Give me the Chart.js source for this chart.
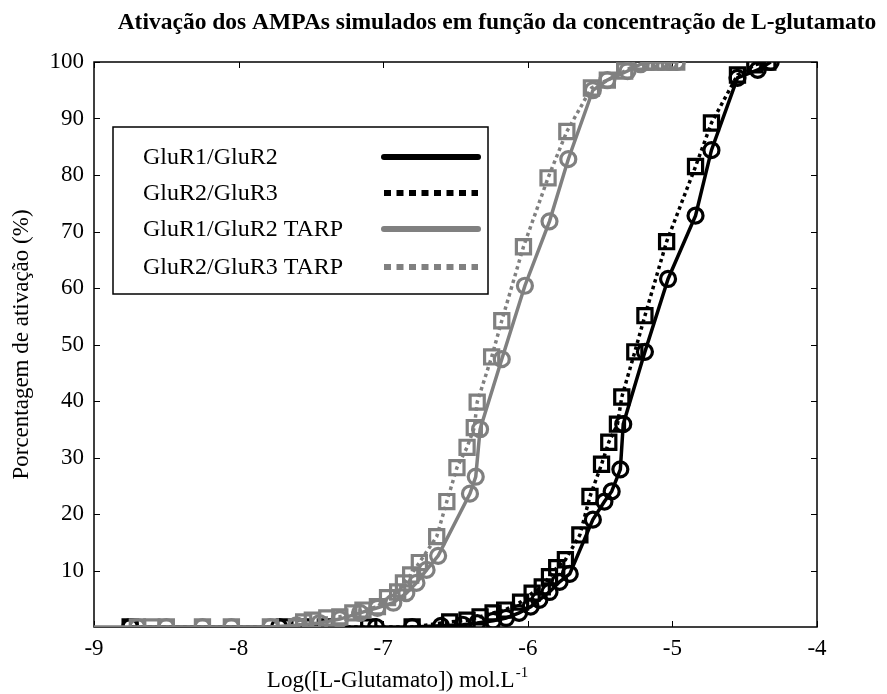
<!DOCTYPE html>
<html>
<head>
<meta charset="utf-8">
<title>Ativação dos AMPAs simulados</title>
<script src="https://cdn.jsdelivr.net/npm/chart.js@4.4.1/dist/chart.umd.min.js"></script>
<style>
    html, body { margin: 0; padding: 0; background: #ffffff; }
    #myChart { display: block; }
</style>
</head>
<body>
<canvas id="myChart" width="887" height="694" style="width:887px;height:694px"></canvas>
<script>
// Nama seri & tick
const seriesLabels = ['GluR1/GluR2', 'GluR2/GluR3', 'GluR1/GluR2 TARP', 'GluR2/GluR3 TARP'];
const xTickValues = [-9, -8, -7, -6, -5, -4];
const yTickValues = [10, 20, 30, 40, 50, 60, 70, 80, 90, 100];
const chartTitle = 'Ativação dos AMPAs simulados em função da concentração de L-glutamato';
const yTitle = 'Porcentagem de ativação (%)';
const xTitle = 'Log([L-Glutamato]) mol.L';
const xTitleSup = '-1';

// GluR1/GluR2 (hitam, garis penuh, lingkaran)
const glur12X = [-8.75, -7.72, -7.05, -6.80, -6.60, -6.45, -6.35, -6.24, -6.15, -6.06, -5.98, -5.92, -5.85, -5.78, -5.71, -5.55, -5.47, -5.42, -5.36, -5.34, -5.19, -5.03, -4.84, -4.73, -4.55, -4.41, -4.32];
const glur12Y = [0, 0, 0, 0, 0.2, 0.4, 0.7, 1.1, 1.6, 2.5, 3.6, 4.8, 6.2, 8.0, 9.4, 19.0, 22.2, 24.0, 27.9, 35.9, 48.7, 61.6, 72.8, 84.4, 97.2, 98.6, 100];

// GluR2/GluR3 (hitam, titik-titik, kotak)
const glur23X = [-8.75, -7.68, -7.55, -7.40, -7.10, -6.80, -6.54, -6.42, -6.33, -6.24, -6.16, -6.05, -5.97, -5.90, -5.85, -5.80, -5.74, -5.64, -5.57, -5.49, -5.44, -5.38, -5.35, -5.26, -5.19, -5.04, -4.84, -4.73, -4.55, -4.43, -4.34];
const glur23Y = [0, 0, 0, 0, 0, 0, 0.9, 1.2, 1.8, 2.5, 3.0, 4.4, 6.0, 7.1, 8.9, 10.5, 11.9, 16.3, 23.1, 28.8, 32.7, 35.9, 40.7, 48.7, 55.1, 68.2, 81.5, 89.2, 97.7, 99.5, 100];

// GluR1/GluR2 TARP (abu-abu, garis penuh, lingkaran)
const glur12TarpX = [-9.5, -8.70, -8.50, -8.25, -8.05, -7.78, -7.60, -7.44, -7.30, -7.16, -7.04, -6.93, -6.84, -6.77, -6.70, -6.62, -6.40, -6.36, -6.33, -6.18, -6.02, -5.85, -5.72, -5.55, -5.45, -5.31, -5.22, -5.15, -5.08, -5.02, -4.97];
const glur12TarpY = [0, 0, 0, 0, 0, 0, 0.3, 0.7, 1.4, 2.5, 3.4, 4.3, 6.0, 7.8, 10.1, 12.6, 23.6, 26.6, 35.0, 47.4, 60.4, 71.8, 82.8, 95.0, 96.8, 98.4, 99.6, 100, 100, 100, 100];

// GluR2/GluR3 TARP (abu-abu, titik-titik, kotak)
const glur23TarpX = [-8.70, -8.60, -8.50, -8.25, -8.05, -7.78, -7.60, -7.55, -7.49, -7.39, -7.30, -7.21, -7.14, -7.04, -6.97, -6.90, -6.86, -6.81, -6.75, -6.63, -6.56, -6.49, -6.42, -6.37, -6.35, -6.25, -6.18, -6.03, -5.86, -5.73, -5.56, -5.45, -5.33, -5.22, -5.15, -5.09, -5.02, -4.97];
const glur23TarpY = [0, 0, 0, 0, 0, 0, 0, 0.9, 1.2, 1.6, 1.8, 2.5, 3.0, 3.6, 5.2, 6.2, 7.8, 9.2, 11.4, 16.0, 22.2, 28.2, 31.8, 35.3, 39.8, 47.8, 54.2, 67.3, 79.5, 87.7, 95.4, 96.8, 98.4, 100, 100, 100, 100, 100];

const SERIF = "'Liberation Serif', 'Times New Roman', serif";
const BLACK = '#000000';
const GRAY = '#808080';

function toPoints(xs, ys) {
    return xs.map((x, i) => ({ x: x, y: ys[i] }));
}

function makeDataset(label, xs, ys, color, dotted, order) {
    return {
        label: label,
        data: toPoints(xs, ys),
        showLine: true,
        borderColor: color,
        borderWidth: 3.5,
        borderDash: dotted ? [3.5, 3.5] : [],
        borderCapStyle: 'butt',
        pointStyle: dotted ? 'rect' : 'circle',
        pointRadius: dotted ? 10 : 7.5,
        pointBorderWidth: 3.2,
        pointBorderColor: color,
        pointBackgroundColor: 'rgba(0,0,0,0)',
        pointHoverRadius: dotted ? 10 : 7.5,
        tension: 0,
        order: order,
        dotted: dotted
    };
}

// Bingkai + tick ke dalam
const framePlugin = {
    id: 'frame',
    beforeDatasetsDraw(chart) {
        const { ctx, chartArea: a, scales } = chart;
        ctx.save();
        ctx.strokeStyle = BLACK;
        ctx.lineWidth = 1.5;
        ctx.strokeRect(a.left, a.top, a.right - a.left, a.bottom - a.top);
        ctx.lineWidth = 1;
        ctx.beginPath();
        xTickValues.forEach(v => {
            const px = Math.round(scales.x.getPixelForValue(v)) + 0.5;
            ctx.moveTo(px, a.bottom); ctx.lineTo(px, a.bottom - 6);
            ctx.moveTo(px, a.top); ctx.lineTo(px, a.top + 6);
        });
        yTickValues.forEach(v => {
            const py = Math.round(scales.y.getPixelForValue(v)) + 0.5;
            ctx.moveTo(a.left, py); ctx.lineTo(a.left + 6, py);
            ctx.moveTo(a.right, py); ctx.lineTo(a.right - 6, py);
        });
        ctx.stroke();
        ctx.restore();
    }
};

// Judul, judul sumbu X dengan superscript, dan legenda kustom
const textPlugin = {
    id: 'texts',
    afterDraw(chart) {
        const { ctx, chartArea: a } = chart;
        ctx.save();
        ctx.fillStyle = BLACK;

        ctx.font = 'bold 23.5px ' + SERIF;
        ctx.textAlign = 'center';
        ctx.textBaseline = 'middle';
        ctx.fillText(chartTitle, 497, 23);

        ctx.font = '23px ' + SERIF;
        ctx.textBaseline = 'alphabetic';
        ctx.textAlign = 'left';
        const mainW = ctx.measureText(xTitle).width;
        ctx.font = '15px ' + SERIF;
        const supW = ctx.measureText(xTitleSup).width;
        const startX = 397 - (mainW + supW) / 2;
        ctx.font = '23px ' + SERIF;
        ctx.fillText(xTitle, startX, 687);
        ctx.font = '15px ' + SERIF;
        ctx.fillText(xTitleSup, startX + mainW + 1, 677);

        // legenda
        const boxL = a.left + 19, boxT = a.top + 65, boxW = 375, boxH = 167;
        ctx.fillStyle = '#ffffff';
        ctx.fillRect(boxL, boxT, boxW, boxH);
        ctx.strokeStyle = BLACK;
        ctx.lineWidth = 1.5;
        ctx.strokeRect(boxL, boxT, boxW, boxH);
        const rowY = [30, 66, 102, 140];
        ctx.font = '24px ' + SERIF;
        ctx.textBaseline = 'middle';
        chart.data.datasets.forEach((ds, i) => {
            const y = boxT + rowY[i];
            ctx.fillStyle = BLACK;
            ctx.fillText(ds.label, boxL + 30, y + 1);
            ctx.strokeStyle = ds.borderColor;
            ctx.lineWidth = 6;
            ctx.lineCap = ds.dotted ? 'butt' : 'round';
            ctx.setLineDash(ds.dotted ? [7, 5.5] : []);
            ctx.beginPath();
            ctx.moveTo(boxL + 271, y);
            ctx.lineTo(boxL + 365, y);
            ctx.stroke();
        });
        ctx.restore();
    }
};

const ctx = document.getElementById('myChart').getContext('2d');
const chart = new Chart(ctx, {
    type: 'scatter',
    data: {
        datasets: [
            makeDataset(seriesLabels[0], glur12X, glur12Y, BLACK, false, 4),
            makeDataset(seriesLabels[1], glur23X, glur23Y, BLACK, true, 3),
            makeDataset(seriesLabels[2], glur12TarpX, glur12TarpY, GRAY, false, 2),
            makeDataset(seriesLabels[3], glur23TarpX, glur23TarpY, GRAY, true, 1)
        ]
    },
    options: {
        responsive: false,
        animation: false,
        devicePixelRatio: 1,
        layout: { padding: { top: 62, right: 70, bottom: 0, left: 0 } },
        plugins: {
            legend: { display: false },
            title: { display: false },
            tooltip: { enabled: false }
        },
        scales: {
            x: {
                type: 'linear',
                min: -9,
                max: -4,
                afterBuildTicks: axis => { axis.ticks = xTickValues.map(v => ({ value: v })); },
                afterFit: axis => { axis.height = 67; },
                grid: { display: false, drawTicks: false },
                border: { display: false },
                ticks: { color: BLACK, padding: 8, font: { family: SERIF, size: 23 }, maxRotation: 0 }
            },
            y: {
                type: 'linear',
                min: 0,
                max: 100,
                afterBuildTicks: axis => { axis.ticks = yTickValues.map(v => ({ value: v })); },
                afterFit: axis => { axis.width = 94; },
                grid: { display: false, drawTicks: false },
                border: { display: false },
                ticks: { color: BLACK, padding: 10, font: { family: SERIF, size: 23 } },
                title: {
                    display: true,
                    text: yTitle,
                    color: BLACK,
                    font: { family: SERIF, size: 23 },
                    padding: { top: 8, bottom: 0 }
                }
            }
        }
    },
    plugins: [framePlugin, textPlugin]
});
</script>
</body>
</html>
